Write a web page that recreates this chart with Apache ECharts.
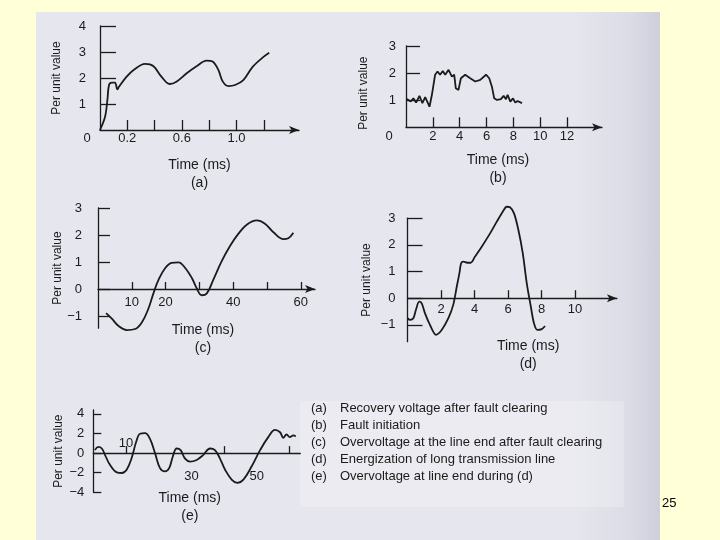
<!DOCTYPE html>
<html>
<head>
<meta charset="utf-8">
<script src="https://cdn.jsdelivr.net/npm/echarts@6/dist/echarts.min.js"></script>
<style>
html,body{margin:0;padding:0;width:720px;height:540px;background:#FFFFD8;overflow:hidden;}
#page{position:absolute;left:36px;top:12px;width:624px;height:528px;
 background:linear-gradient(to right,#E6E6EE 0%,#E6E6EE 86%,#DCDCE6 95%,#CFCFDC 100%);}
#legbox{position:absolute;left:300px;top:401px;width:324px;height:106px;background:rgba(255,255,255,0.22);}
#chart{position:absolute;left:0;top:0;width:720px;height:540px;}
</style>
</head>
<body>
<div id="page"></div>
<div id="legbox"></div>
<div id="chart"></div>
<script>
// ---------- data ----------
// (a) Recovery voltage after fault clearing
const timeA  = [0, 0.037, 0.054, 0.066, 0.086, 0.11, 0.127, 0.14, 0.195, 0.244, 0.33, 0.39, 0.45, 0.51, 0.56, 0.635, 0.71, 0.78, 0.825, 0.867, 0.90, 0.94, 0.99, 1.05, 1.12, 1.20, 1.24];
const valueA = [0, 0.51, 1.15, 1.73, 1.82, 1.82, 1.56, 1.67, 2.05, 2.3, 2.54, 2.46, 2.05, 1.77, 1.86, 2.18, 2.46, 2.67, 2.63, 2.31, 1.86, 1.69, 1.73, 1.92, 2.44, 2.82, 2.97];
const xTicksA = [0.2, 0.4, 0.6, 0.8, 1.0, 1.2];
const xLabelsA = [0, 0.2, 0.6, 1.0];
const yTicksA = [1, 2, 3, 4];

// (b) Fault initiation
const timeB  = [0.06, 0.36, 0.55, 0.75, 1.0, 1.22, 1.43, 1.75, 1.93, 2.17, 2.35, 2.54, 2.74, 2.92, 3.17, 3.42, 3.59, 3.71, 3.91, 4.09, 4.41, 4.78, 5.16, 5.53, 5.96, 6.2, 6.4, 6.57, 6.78, 7.07, 7.27, 7.45, 7.57, 7.77, 7.97, 8.14, 8.31, 8.64];
const valueB = [1.04, 0.95, 1.07, 0.91, 1.16, 0.89, 1.11, 0.76, 1.2, 1.94, 2.06, 1.94, 2.08, 1.94, 2.12, 1.87, 1.94, 1.44, 1.38, 1.81, 1.94, 1.81, 1.69, 1.75, 1.94, 1.81, 1.5, 1.07, 1.01, 1.04, 1.16, 1.04, 1.2, 0.95, 1.07, 0.91, 0.97, 0.89];
const xTicksB = [2, 4, 6, 8, 10, 12];
const xLabelsB = [0, 2, 4, 6, 8, 10, 12];
const yTicksB = [1, 2, 3];

// (c) Overvoltage at the line end after fault clearing
const timeC  = [2.4, 4.1, 6.0, 8.5, 11.0, 13.0, 14.9, 16.4, 17.9, 19.9, 21.8, 23.8, 25.8, 27.8, 29.2, 30.7, 32.2, 34.1, 36.6, 39.1, 41.5, 44.0, 47.0, 49.4, 51.9, 54.9, 56.3, 57.8];
const valueC = [-0.89, -1.1, -1.36, -1.52, -1.48, -1.23, -0.73, -0.16, 0.34, 0.78, 0.97, 0.99, 0.78, 0.4, 0.03, -0.23, -0.16, 0.34, 1.03, 1.6, 2.04, 2.38, 2.54, 2.42, 2.1, 1.85, 1.88, 2.08];
const xTicksC = [10, 20, 30, 40, 50, 60];
const xLabelsC = [10, 20, 40, 60];
const yTicksC = [-1, 0, 1, 2, 3];

// (d) Energization of long transmission line
const timeD  = [0, 0.15, 0.35, 0.5, 0.7, 0.85, 1.04, 1.34, 1.7, 2.04, 2.44, 2.73, 2.94, 3.1, 3.2, 3.33, 3.57, 3.77, 4.03, 4.43, 4.93, 5.33, 5.72, 5.92, 6.12, 6.36, 6.62, 6.88, 7.12, 7.36, 7.55, 7.75, 8.01, 8.21];
const valueD = [-0.75, -0.81, -0.75, -0.44, -0.13, -0.19, -0.56, -1.0, -1.37, -1.19, -0.75, -0.25, 0.43, 0.94, 1.31, 1.37, 1.33, 1.33, 1.56, 1.93, 2.43, 2.87, 3.28, 3.43, 3.41, 3.18, 2.56, 1.69, 0.56, -0.31, -0.94, -1.19, -1.16, -1.04];
const xTicksD = [2, 4, 6, 8, 10];
const xLabelsD = [2, 4, 6, 8, 10];
const yTicksD = [-1, 0, 1, 2, 3];

// (e) Overvoltage at line end during (d)
const timeE  = [0.5, 1.5, 2.6, 3.6, 5.1, 7.2, 8.7, 10.2, 11.7, 13.1, 14.3, 15.8, 17.3, 18.9, 20.4, 21.9, 23.2, 24.3, 25.5, 26.7, 28.0, 29.6, 31.6, 33.6, 35.7, 37.2, 38.7, 40.3, 42.3, 44.0, 45.9, 48.4, 51.0, 53.5, 55.6, 57.1, 58.1, 59.1, 60.1, 61.2, 61.9];
const valueE = [0.3, 0.63, 0.47, -0.2, -1.2, -1.97, -2.03, -1.7, -0.53, 1.13, 1.97, 2.03, 1.47, -0.03, -1.53, -1.87, -1.53, -0.37, 0.47, 0.3, -0.53, -0.87, -0.7, -0.2, 0.47, 0.3, -0.53, -1.7, -2.7, -3.03, -2.7, -1.37, 0.3, 1.63, 2.37, 2.13, 1.57, 1.9, 1.63, 1.8, 1.7];
const xTicksE = [10, 40, 60];
const xLabelsEAbove = [10];
const xLabelsEBelow = [30, 50];
const yTicksE = [-4, -2, 0, 2, 4];

const legendLines = [
  ['(a)', 'Recovery voltage after fault clearing'],
  ['(b)', 'Fault initiation'],
  ['(c)', 'Overvoltage at the line end after fault clearing'],
  ['(d)', 'Energization of long transmission line'],
  ['(e)', 'Overvoltage at line end during (d)']
];
const slideNumber = '25';

// ---------- styling helpers ----------
const INK = '#1b1b1b';
const FONT = '"Liberation Sans", Arial, sans-serif';
const minus = v => String(v).replace('-', '\u2212');
const pairs = (xs, ys) => xs.map((x, i) => [x, ys[i]]);

function xAx(o) {
  return {
    gridIndex: o.g, type: 'value', min: o.min, max: o.max, offset: o.offset || 0,
    position: o.position || 'bottom',
    axisLine: { show: o.line !== false, onZero: false,
      symbol: o.arrow ? ['none', 'arrow'] : ['none', 'none'], symbolSize: [6, 10],
      lineStyle: { color: INK, width: 1.3 } },
    axisTick: { show: !!o.ticks, inside: true, length: o.tickLen || 8, customValues: o.ticks || [],
      lineStyle: { color: INK, width: 1.3 } },
    axisLabel: { show: !!o.labels, customValues: o.labels || [],
      margin: o.margin, color: INK, fontFamily: FONT, fontSize: 13,
      showMinLabel: true, showMaxLabel: true,
      formatter: v => (v === 0 && o.zeroPad) ? '{z|0}' :
        minus(o.decimals ? v.toFixed(o.decimals) : v),
      rich: { z: { padding: [0, o.zeroPad || 0, 0, 0], fontFamily: FONT, fontSize: 13, color: INK } } },
    splitLine: { show: false },
    name: o.name || '', nameLocation: 'middle', nameGap: o.nameGap || 0,
    nameTextStyle: { color: INK, fontFamily: FONT, fontSize: 14, lineHeight: 18,
      padding: o.namePad || 0 }
  };
}
function yAx(o) {
  return {
    gridIndex: o.g, type: 'value', min: o.min, max: o.max,
    axisLine: { show: true, onZero: false, lineStyle: { color: INK, width: 1.3 } },
    axisTick: { show: true, inside: true, length: o.tickLen, customValues: o.ticks,
      lineStyle: { color: INK, width: 1.3 } },
    axisLabel: { customValues: o.labels, margin: o.margin, color: INK, fontFamily: FONT,
      fontSize: 13, showMinLabel: true, showMaxLabel: true, formatter: v => minus(v) },
    splitLine: { show: false },
    name: 'Per unit value', nameLocation: 'middle', nameRotate: 90, nameGap: o.nameGap,
    nameTextStyle: { color: INK, fontFamily: FONT, fontSize: 12, padding: o.namePad || 0 }
  };
}
function line(xi, yi, data, smooth) {
  return { type: 'line', xAxisIndex: xi, yAxisIndex: yi, data: data, showSymbol: false,
    smooth: smooth, clip: false, lineStyle: { color: INK, width: 1.8 }, silent: true, animation: false };
}
function grid(l, t, w, h) {
  return { left: l, top: t, width: w, height: h, containLabel: false, outerBoundsMode: 'none' };
}

const graphicTexts = [];
legendLines.forEach((l, i) => {
  const y = 410 + i * 17.1;
  graphicTexts.push({ type: 'text', left: 311, top: y - 8,
    style: { text: l[0], font: '13px ' + FONT, fill: INK } });
  graphicTexts.push({ type: 'text', left: 340, top: y - 8,
    style: { text: l[1], font: '13px ' + FONT, fill: INK } });
});
graphicTexts.push({ type: 'text', left: 662, top: 497,
  style: { text: slideNumber, font: '13px ' + FONT, fill: '#000' } });

const option = {
  backgroundColor: 'transparent',
  animation: false,
  textStyle: { fontFamily: FONT },
  grid: [
    grid(100, 26, 199, 104),        // a : 0..4
    grid(406, 46, 196, 81.3),       // b : 0..3
    grid(98, 208, 217, 120.2),      // c : -1.45..3 (27.0 px/unit)
    grid(407.5, 218.2, 209.4, 123.5), // d : -1.63..3 (26.67 px/unit)
    grid(93.3, 410, 207, 82.3)      // e : -4..4.4 (9.8 px/unit)
  ],
  xAxis: [
    xAx({ g: 0, min: 0, max: 1.458, arrow: true, ticks: xTicksA, tickLen: 10, labels: xLabelsA,
          decimals: 1, margin: 2, zeroPad: 26, name: 'Time (ms)\n(a)', nameGap: 26 }),
    xAx({ g: 1, min: 0, max: 14.6, arrow: true, ticks: xTicksB, tickLen: 10, labels: xLabelsB,
          margin: 3, zeroPad: 34, name: 'Time (ms)\n(b)', nameGap: 24, namePad: [0, 12, 0, 0] }),
    xAx({ g: 2, min: 0, max: 64.2, arrow: true, ticks: xTicksC, tickLen: 7, labels: xLabelsC,
          margin: 7, offset: -39.2, name: 'Time (ms)\n(c)', nameGap: 32, namePad: [0, 7, 0, 0] }),
    xAx({ g: 3, min: 0, max: 12.5, arrow: true, ticks: xTicksD, tickLen: 8, labels: xLabelsD,
          margin: 5, offset: -43.5, name: 'Time (ms)\n(d)', nameGap: 39, namePad: [0, 0, 0, 32] }),
    xAx({ g: 4, min: 0, max: 63.3, arrow: false, ticks: xTicksE, tickLen: 7, labels: xLabelsEBelow,
          margin: 17, offset: -39.2, name: 'Time (ms)\n(e)', nameGap: 36, namePad: [0, 14, 0, 0] }),
    xAx({ g: 4, min: 0, max: 63.3, line: false, labels: xLabelsEAbove, position: 'top',
          margin: 3, offset: -43.1 })
  ],
  yAxis: [
    yAx({ g: 0, min: 0, max: 4, ticks: yTicksA, labels: [1, 2, 3, 4], tickLen: 16, margin: 14, nameGap: 37 }),
    yAx({ g: 1, min: 0, max: 3, ticks: yTicksB, labels: [1, 2, 3], tickLen: 14, margin: 10, nameGap: 36,
          namePad: [0, 13, 0, 0] }),
    yAx({ g: 2, min: -1.45, max: 3, ticks: yTicksC, labels: yTicksC, tickLen: 12, margin: 16, nameGap: 34 }),
    yAx({ g: 3, min: -1.63, max: 3, ticks: yTicksD, labels: yTicksD, tickLen: 15, margin: 12, nameGap: 35 }),
    yAx({ g: 4, min: -4, max: 4.4, ticks: yTicksE, labels: yTicksE, tickLen: 8, margin: 9, nameGap: 29 })
  ],
  series: [
    line(0, 0, pairs(timeA, valueA), 0.35),
    line(1, 1, pairs(timeB, valueB), false),
    line(2, 2, pairs(timeC, valueC), 0.4),
    line(3, 3, pairs(timeD, valueD), 0.3),
    line(4, 4, pairs(timeE, valueE), 0.4)
  ],
  graphic: graphicTexts
};

const chart = echarts.init(document.getElementById('chart'), null, { renderer: 'canvas' });
chart.setOption(option);
</script>
</body>
</html>
